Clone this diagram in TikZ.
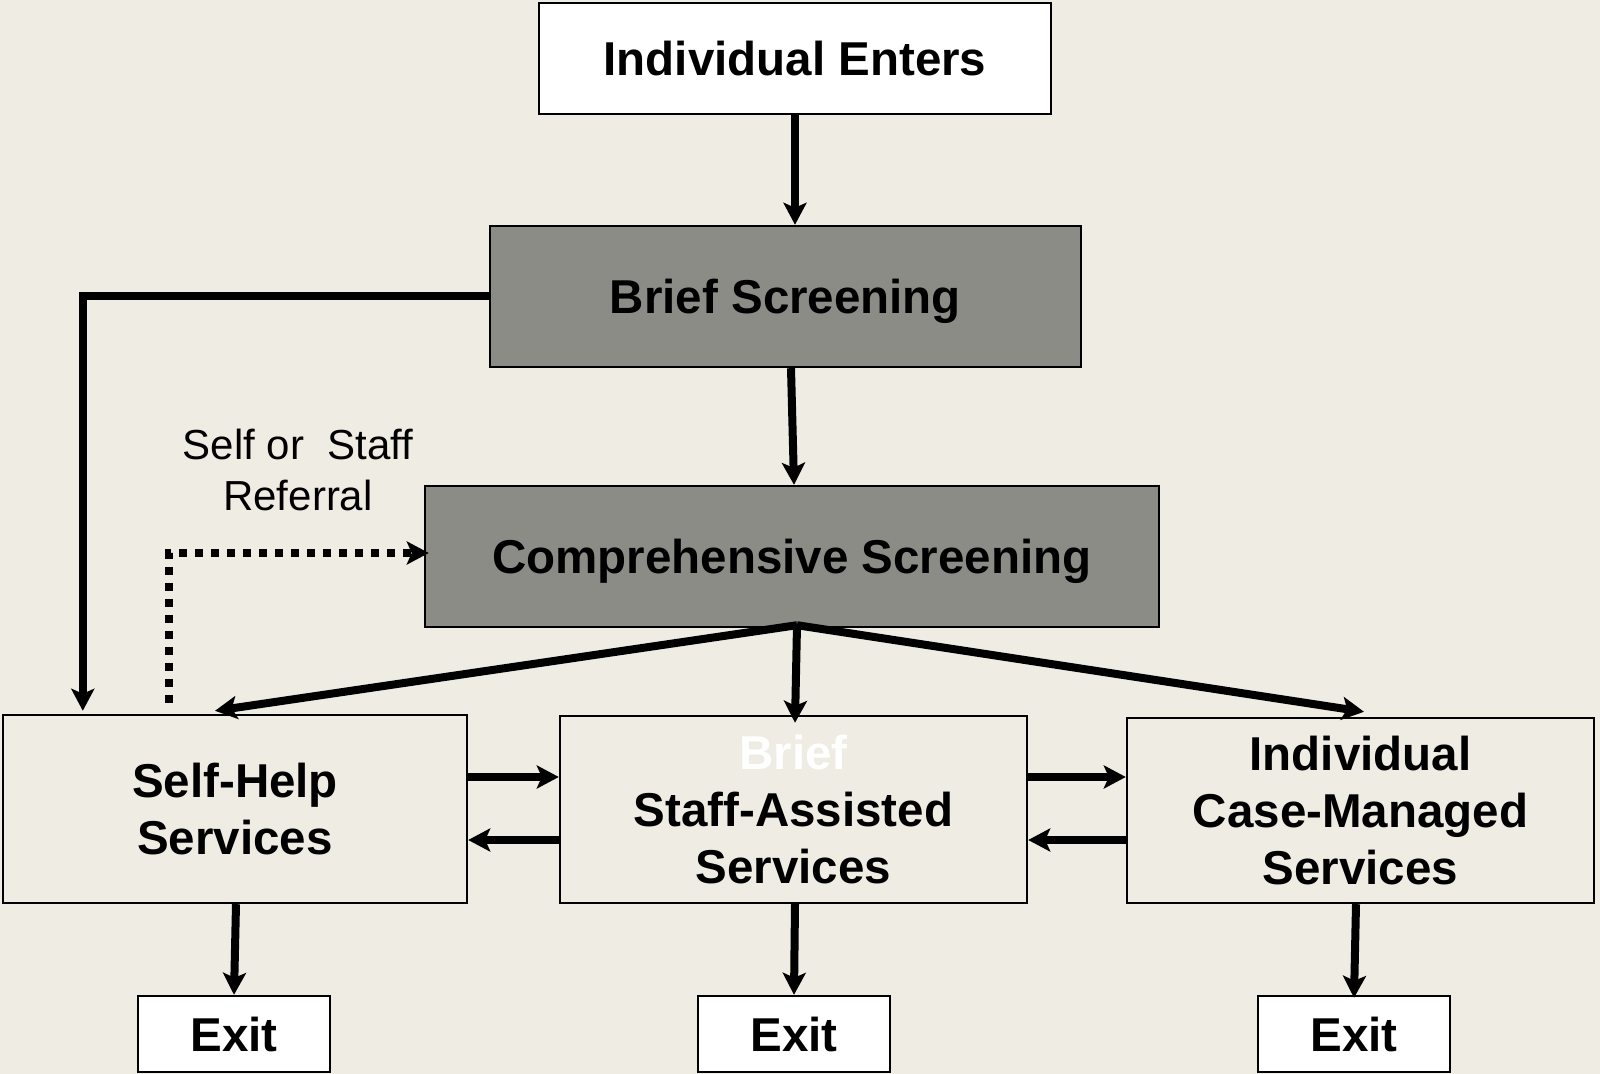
\documentclass[tikz,border=0pt]{standalone}
\usepackage{fontspec}
\setmainfont{Liberation Sans}
\usetikzlibrary{arrows.meta,calc}
\definecolor{bgivory}{RGB}{238,236,227}
\definecolor{screengray}{RGB}{139,140,134}
\newcommand\bxfont{\fontsize{23.75pt}{28.5pt}\selectfont\bfseries}
\newcommand\lblfont{\fontsize{21pt}{25.5pt}\selectfont}
\begin{document}
\begin{tikzpicture}[x=0.5pt,y=-0.5pt,
  box/.style={draw=black, line width=1.2pt, inner sep=0pt, align=center, font=\bxfont},
  whitebox/.style={box, fill=white, text depth=0pt},
  graybox/.style={box, fill=screengray, text depth=0pt},
  svcbox/.style={box, fill=bgivory, minimum width=233.5pt},
  exitbox/.style={whitebox, minimum width=96pt, minimum height=38pt},
  conn/.style={line width=4pt, -{Stealth[length=11pt,width=11.5pt,inset=2.5pt]}},
  dotconn/.style={conn, dash pattern=on 4pt off 4pt},
  lbl/.style={align=center, font=\lblfont, inner sep=0pt}]
\fill[bgivory] (0,0) rectangle (1600,1074);
\useasboundingbox (0,0) rectangle (1600,1074);

\node[whitebox, minimum width=256pt, minimum height=55.5pt] (ie) at (795,58.5) {Individual Enters};
\node[graybox, minimum width=295.5pt, minimum height=70.5pt] (bs) at (785.5,296.5) {Brief Screening};
\node[graybox, minimum width=367pt, minimum height=70.5pt] (cs) at (792,556.5) {Comprehensive Screening};
\node[svcbox, minimum width=232pt, minimum height=94pt] (sh) at (235,809) {Self-Help\\Services};
\node[svcbox, minimum height=93.5pt] (st) at (793.5,809.5) {\textcolor{white}{Brief}\\Staff-Assisted\\Services};
\node[svcbox, minimum height=92.5pt] (cm) at (1360.5,810.5) {Individual\\Case-Managed\\Services};
\node[exitbox] (e1) at (234,1034) {Exit};
\node[exitbox] (e2) at (794,1034) {Exit};
\node[exitbox] (e3) at (1354,1034) {Exit};
\node[lbl] (ref) at (298,470) {Self or~~Staff\\Referral};

\draw[conn] (ie.south) -- (ie.south |- bs.north);
\draw[conn] ($(bs.south)+(5.5,0)$) -- ($(cs.north)+(2,0)$);
\draw[conn] (bs.west) -| ($(sh.north west)+(81,-3)$);
\draw[dotconn] ($(sh.north west)+(167,-11)$) |- ($(cs.west)+(5,-3.5)$);

\coordinate (fan) at ($(cs.south)+(5,-3)$);
\draw[conn] (fan) -- ($(sh.north)+(-20,-3)$);
\draw[conn] (fan) -- ($(st.north)+(1.5,8)$);
\draw[conn] (fan) -- ($(cm.north)+(3.5,-5)$);

\draw[conn] ($(sh.east)+(0,-32)$) -- ($(st.west)+(0,-32.5)$);
\draw[conn] ($(st.west)+(0,30.5)$) -- ($(sh.east)+(0,31)$);
\draw[conn] ($(st.east)+(0,-32.5)$) -- ($(cm.west)+(0,-33.5)$);
\draw[conn] ($(cm.west)+(0,29.5)$) -- ($(st.east)+(0,30.5)$);

\draw[conn] ($(sh.south)+(1,0)$) -- (e1.north);
\draw[conn] ($(st.south)+(1.5,0)$) -- (e2.north);
\draw[conn] ($(cm.south)+(-4.5,0)$) -- ($(e3.north)+(0,3)$);
\end{tikzpicture}
\end{document}
